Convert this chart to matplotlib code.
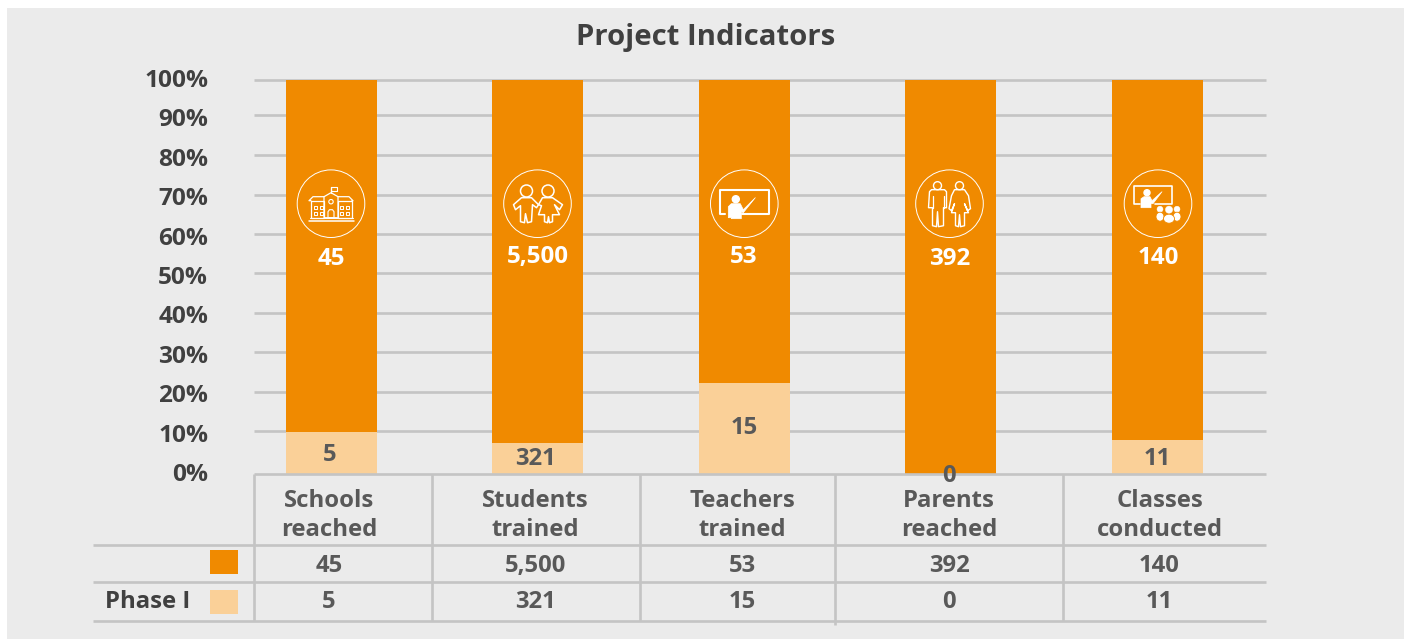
# -*- coding: utf-8 -*-
import matplotlib
matplotlib.use('Agg')
import matplotlib.pyplot as plt
from matplotlib.patches import Rectangle, Circle, Polygon, Ellipse
from matplotlib.transforms import ScaledTranslation

plt.rcParams['font.family'] = ['Open Sans', 'DejaVu Sans']
plt.rcParams['font.weight'] = 'bold'

categories = ['Schools\nreached', 'Students\ntrained', 'Teachers\ntrained', 'Parents\nreached', 'Classes\nconducted']
main_values = [45, 5500, 53, 392, 140]
phase1_values = [5, 321, 15, 0, 11]
# share of each bar as drawn in the picture, in percent
phase1_share = [10.5, 7.7, 22.9, 0, 8.5]
main_share = [89.5, 92.3, 77.1, 100, 91.5]
y_ticks = [0, 10, 20, 30, 40, 50, 60, 70, 80, 90, 100]
title = 'Project Indicators'
row_label = 'Phase I'

ORANGE = '#F08A00'
LIGHT = '#FAD098'
PANEL = '#EBEBEB'
GRID = '#C4C4C4'
DARK = '#404040'
MID = '#595959'
FS = 17.2

W, H = 1404, 639
fig = plt.figure(figsize=(W/100, H/100), dpi=100, facecolor='white')

# background panel
bg = fig.add_axes([0, 0, 1, 1], zorder=0)
bg.set_xlim(0, W)
bg.set_ylim(H, 0)
bg.axis('off')
bg.add_patch(Rectangle((7, 8), W-7, H-8, color=PANEL, lw=0))

# gridlines in the reference sit a little off the regular tick spacing
for yy in [79.5, 115.3, 155, 194.5, 234, 273.4, 312.8, 352.3, 391.5, 431]:
    bg.plot([254, 1266], [yy, yy], color=GRID, lw=1.9, solid_capstyle='butt')

# bars, axes placed so that 0% and 100% fall on the reference gridlines
ax_left, ax_right, ax_top, ax_bot = 254, 1266, 79.5, 473.5
ax = fig.add_axes([ax_left/W, 1-ax_bot/H, (ax_right-ax_left)/W, (ax_bot-ax_top)/H], zorder=1)
ax.patch.set_alpha(0)
x = [0, 1, 2, 3, 4]
step = 206.4
ax.set_xlim((ax_left-331.4)/step, (ax_right-331.4)/step)
ax.set_ylim(0, 100)
ax.bar(x, phase1_share, width=91/step, color=LIGHT, zorder=3)
ax.bar(x, main_share, bottom=phase1_share, width=91/step, color=ORANGE, zorder=3)
ax.set_yticks(y_ticks)
ax.set_yticklabels([f'{t}%' for t in y_ticks], fontsize=17.6, color=DARK, fontweight='bold')
ax.set_xticks([])
ax.tick_params(axis='y', length=0, pad=33)
shift = ScaledTranslation(0, 1.5/100, fig.dpi_scale_trans)
for lab in ax.get_yticklabels():
    lab.set_transform(lab.get_transform() + shift)
for s in ax.spines.values():
    s.set_visible(False)

# overlay in pixel coordinates for table, labels and icons
ov = fig.add_axes([0, 0, 1, 1], zorder=2)
ov.set_xlim(0, W)
ov.set_ylim(H, 0)
ov.axis('off')

ov.text(706, 38, title, ha='center', va='center', fontsize=21.1, color=DARK, fontweight='bold')

# table grid
for yy, x0 in [(474, 254), (544.5, 93), (582, 93), (621, 93)]:
    ov.plot([x0, 1266], [yy, yy], color=GRID, lw=1.9, solid_capstyle='butt')
for xx, y1 in [(254, 621), (431.5, 621), (640, 621), (834.5, 625), (1063, 621)]:
    ov.plot([xx, xx], [474, y1], color=GRID, lw=1.9, solid_capstyle='butt')

# legend swatches and row label
ov.add_patch(Rectangle((210, 550), 28, 24, color=ORANGE, lw=0))
ov.add_patch(Rectangle((210, 590), 28, 24, color=LIGHT, lw=0))
ov.text(148, 602, row_label, ha='center', va='center', fontsize=FS, color=DARK, fontweight='bold')

# table text
cat_x = [329, 535.5, 742, 949, 1159.5]
val_x = [329, 535.5, 742, 949, 1159.5]
for cx, vx, c, m, p in zip(cat_x, val_x, categories, main_values, phase1_values):
    a, b = c.split('\n')
    ov.text(cx, 501, a, ha='center', va='center', fontsize=FS, color=MID, fontweight='bold')
    ov.text(cx, 529.5, b, ha='center', va='center', fontsize=FS, color=MID, fontweight='bold')
    ov.text(vx, 566, f'{m:,}', ha='center', va='center', fontsize=FS, color=MID, fontweight='bold')
    ov.text(vx, 602.5, f'{p:,}', ha='center', va='center', fontsize=FS, color=MID, fontweight='bold')

# labels on the bars
white_pos = [(331, 259), (537.5, 257), (744, 257), (950, 259), (1158, 258)]
dark_pos = [(330, 455), (536, 459), (744, 428.5), (949, 476), (1157, 459)]
for (tx, ty), m in zip(white_pos, main_values):
    ov.text(tx, ty, f'{m:,}', ha='center', va='center', fontsize=17.4, color='white', fontweight='bold')
for (tx, ty), p in zip(dark_pos, phase1_values):
    ov.text(tx, ty, f'{p:,}', ha='center', va='center', fontsize=FS, color=MID, fontweight='bold')


# icons, all in pixels relative to the circle centre
def ring(cx, cy):
    ov.add_patch(Circle((cx, cy), 33.8, fill=False, ec='white', lw=0.7))


def outline(cx, cy, pts, lw=1.0, fill=False):
    ov.add_patch(Polygon([(cx+a, cy+b) for a, b in pts], closed=True, fill=fill,
                         fc='white' if fill else None, ec='white', lw=lw, joinstyle='round'))


def stroke(cx, cy, pts, lw=1.0):
    ov.plot([cx+a for a, b in pts], [cy+b for a, b in pts], color='white', lw=lw, solid_capstyle='round')


def head(cx, cy, a, b, r, fill=False, lw=1.0):
    ov.add_patch(Circle((cx+a, cy+b), r, fill=fill, fc='white' if fill else None, ec='white', lw=lw))


def school(cx, cy):
    ring(cx, cy)
    stroke(cx, cy, [(-22, 17), (23, 17)], 1.1)
    stroke(cx, cy, [(-21, 14), (22, 14)], 0.8)
    outline(cx, cy, [(-7, 14), (-7, -7), (0, -11), (7, -7), (7, 14)], 0.9)
    outline(cx, cy, [(-20, 14), (-20, -3), (-7, -3), (-7, 14)], 0.9)
    outline(cx, cy, [(7, 14), (7, -3), (21, -3), (21, 14)], 0.9)
    stroke(cx, cy, [(-7, -7), (-18, -7), (-22, -3), (-20, -3)], 0.9)
    stroke(cx, cy, [(7, -7), (18, -7), (22, -3), (21, -3)], 0.9)
    stroke(cx, cy, [(0, -11), (0, -17)], 0.9)
    outline(cx, cy, [(0, -17), (6, -17), (6, -13), (0, -13)], 0.8)
    head(cx, cy, 0, -2, 2.2, lw=0.8)
    outline(cx, cy, [(-3, 14), (-3, 8), (-1.5, 6), (1.5, 6), (3, 8), (3, 14)], 0.8)
    for wx in (-17, -11, 9, 15):
        for wy in (2, 8):
            outline(cx, cy, [(wx, wy), (wx+3, wy), (wx+3, wy+3), (wx, wy+3)], 0.7)


def kids(cx, cy):
    ring(cx, cy)
    head(cx, cy, -11, -12.7, 6, lw=1.1)
    head(cx, cy, 10.5, -12.7, 6, lw=1.1)
    outline(cx, cy, [(-24, 1), (-16, -6), (-6, -6), (1, 1), (-1, 4), (-5, 1), (-6, 18), (-10, 19),
                     (-12, 10), (-13, 19), (-17, 18), (-17, 2), (-22, 6)], 1.1)
    outline(cx, cy, [(1, 1), (5, -6), (15, -6), (25, 1), (22, 6), (17, 1), (22, 11), (15, 11), (15, 18), (12, 19),
                     (11, 13), (10, 19), (7, 18), (7, 11), (1, 11), (4, 2)], 1.1)


def teacher(cx, cy):
    ring(cx, cy)
    stroke(cx, cy, [(-19, 10), (-24, 10), (-24, -13.5), (24.5, -13.5), (24.5, 10), (-2, 10)], 1.5)
    head(cx, cy, -8.5, -4.5, 3.5, fill=True)
    outline(cx, cy, [(-16, 14), (-16, 3), (-13, 0), (-4, 0), (-1, 6), (11, -6), (-1, 9), (-3, 8), (-3, 15), (-13, 15), (-13, 14)],
            0.5, fill=True)


def parents(cx, cy):
    ring(cx, cy)
    head(cx, cy, -12, -18, 4, lw=1.0)
    head(cx, cy, 10, -18, 4, lw=1.0)
    outline(cx, cy, [(-20, -12), (-18, -14), (-5, -14), (-3, -12), (-3, 4), (-6, 4), (-6, 22), (-11, 23), (-12, 8),
                     (-13, 23), (-17, 22), (-17, 4), (-21, 4)], 1.0)
    stroke(cx, cy, [(-17, -8), (-17, 4)], 0.9)
    stroke(cx, cy, [(-6, -8), (-6, 4)], 0.9)
    outline(cx, cy, [(5, -14), (15, -14), (19, -8), (21, 5), (18, 7), (15, 0), (19, 9), (15, 9), (15, 22), (11, 23), (10, 11),
                     (9, 23), (6, 22), (6, 9), (2, 9), (5, 0), (2, 7), (-0.5, 5), (2, -8)], 1.0)


def classroom(cx, cy):
    ring(cx, cy)
    stroke(cx, cy, [(-18, 0), (-24, 0), (-24, -18), (14, -18), (14, 0), (-3, 0)], 1.2)
    head(cx, cy, -11, -11, 3, fill=True)
    outline(cx, cy, [(-17, 4), (-17, -5), (-14, -7), (-8, -7), (-6, -3), (4, -12), (-5, 0), (-7, 0), (-7, 4)], 0.5, fill=True)
    for a, rb, wb in [(2, 3, 8), (19, 3, 8), (11, 3.6, 11)]:
        head(cx, cy, a, 5.5 if a != 11 else 6, rb, fill=True, lw=0.3)
        ov.add_patch(Ellipse((cx+a, cy+13 if a != 11 else cy+15), wb, 9, fc='white', ec=ORANGE, lw=0.6))


icon_funcs = [school, kids, teacher, parents, classroom]
icon_x = [331, 537.5, 744.3, 949.5, 1158]
for f, ix in zip(icon_funcs, icon_x):
    f(ix, 203.7)

fig.savefig('out.png', dpi=100, facecolor='white')
